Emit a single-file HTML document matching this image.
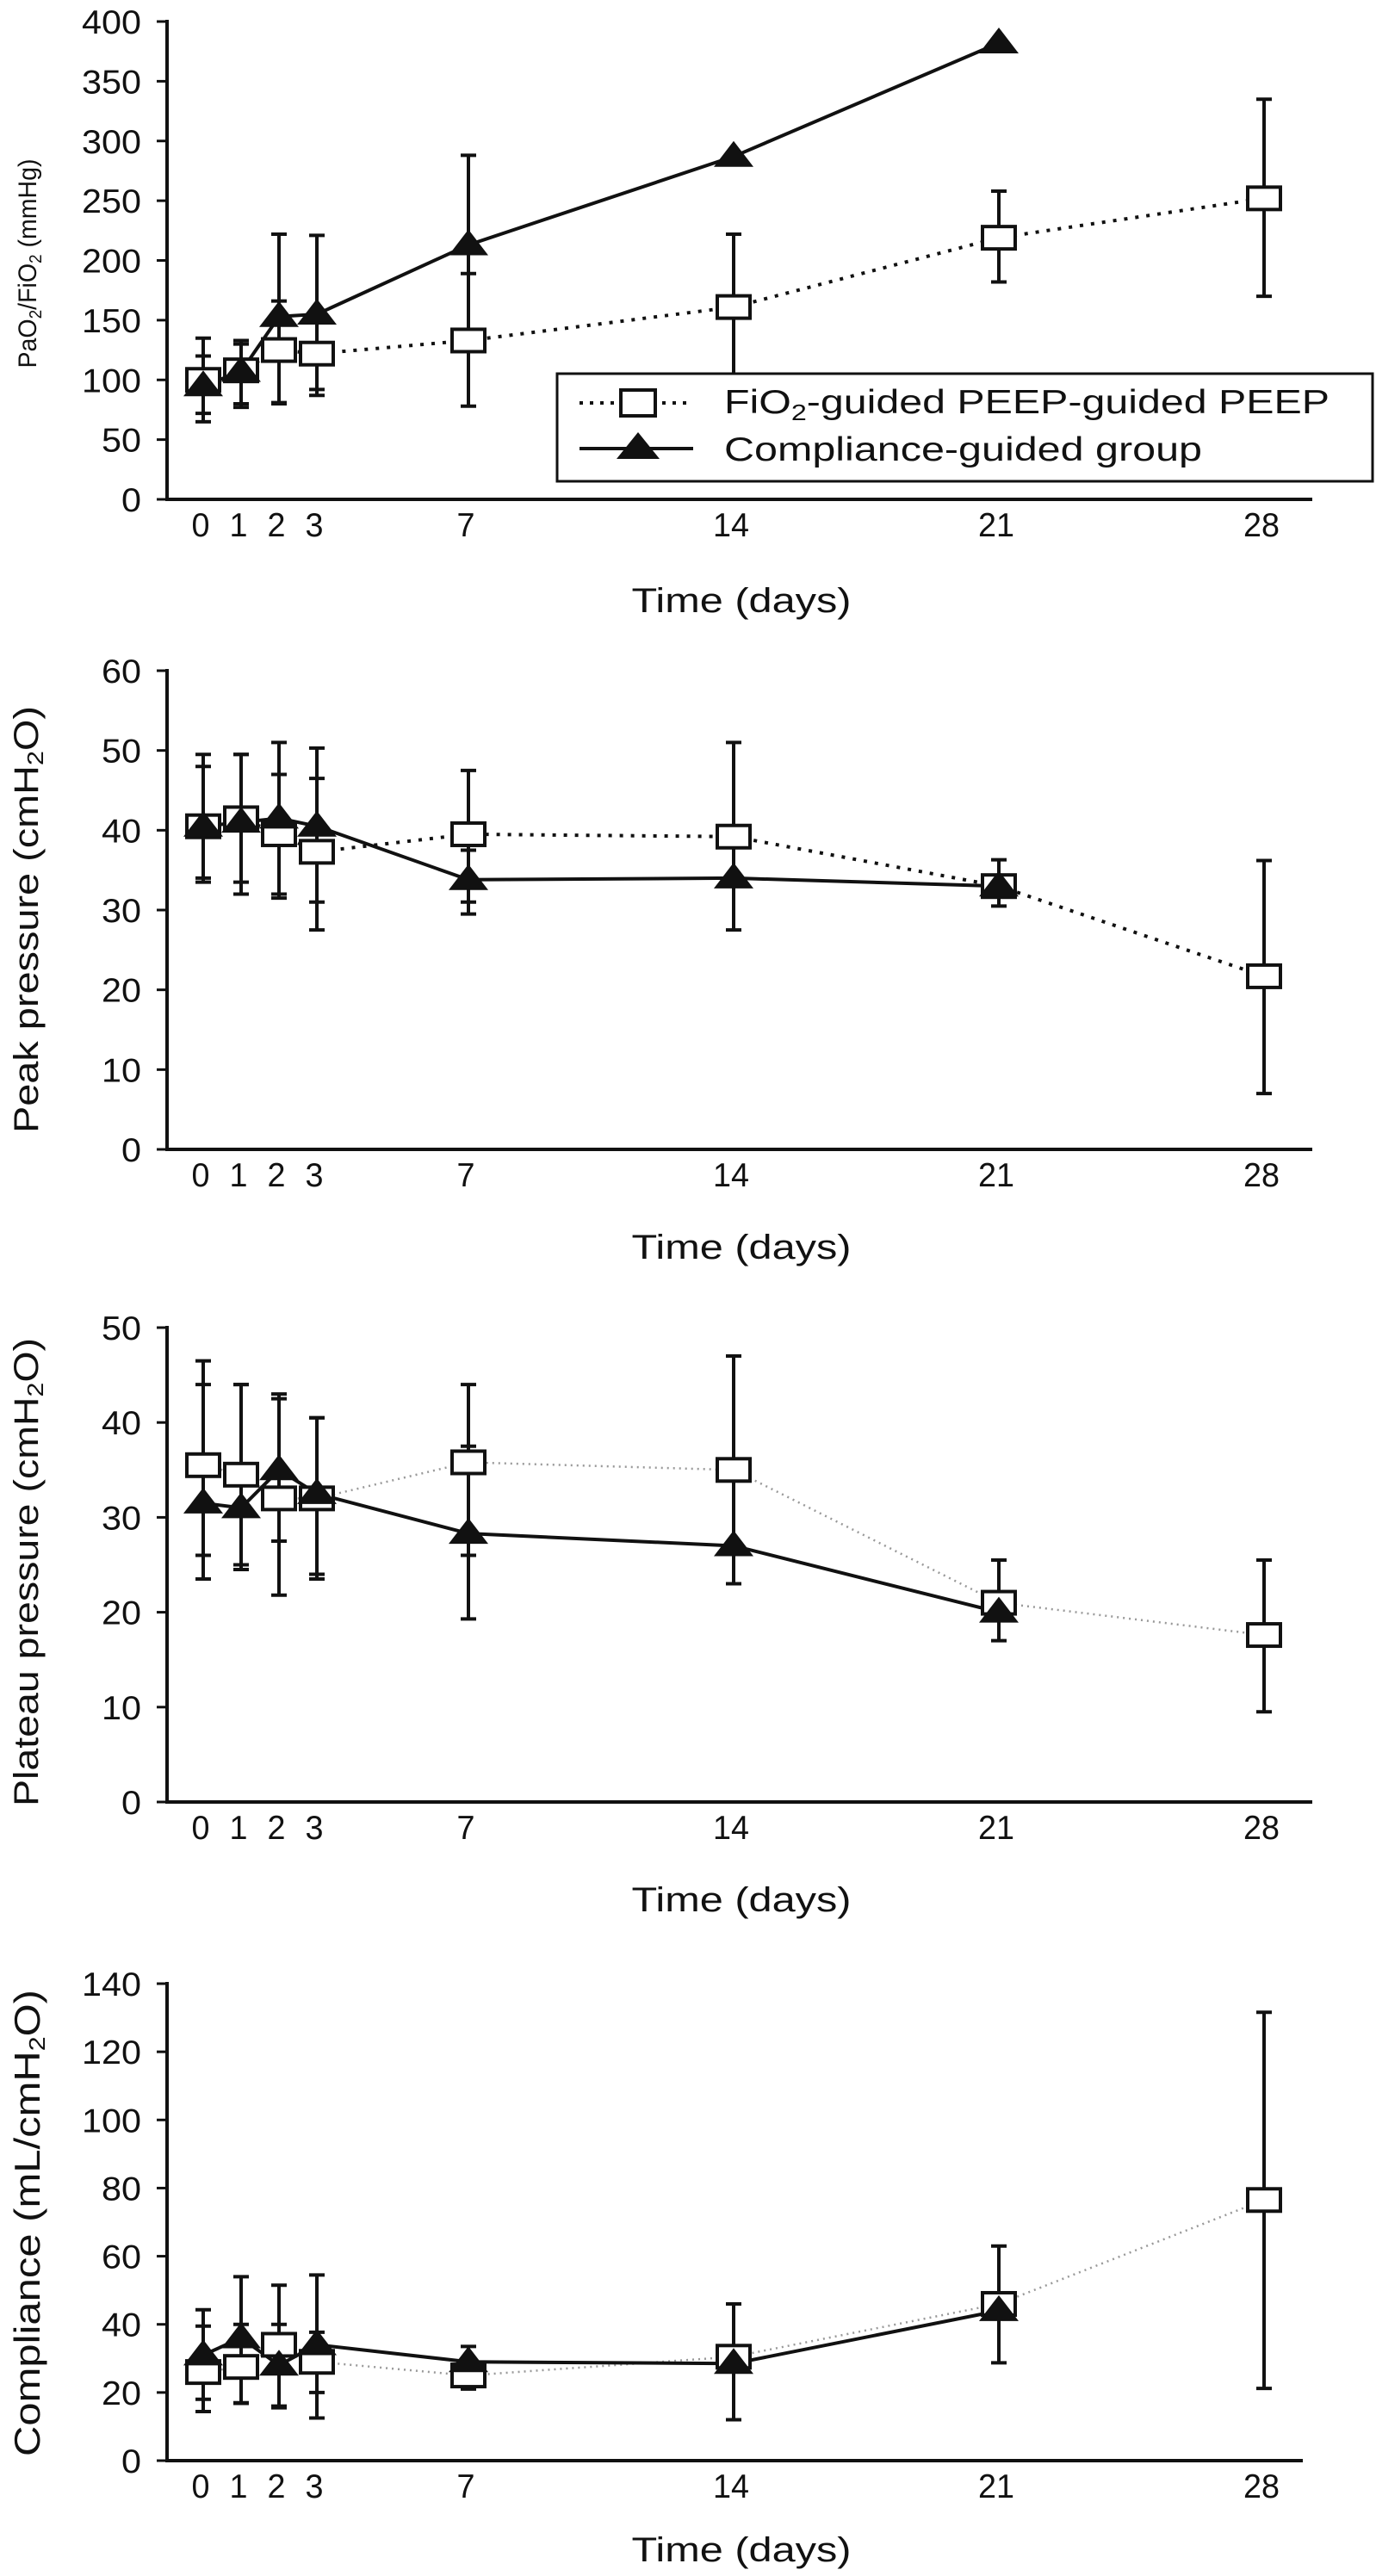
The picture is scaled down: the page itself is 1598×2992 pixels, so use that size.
<!DOCTYPE html>
<html><head><meta charset="utf-8"><style>
html,body{margin:0;padding:0;background:#fff;}
svg{display:block;}
text{font-family:"Liberation Sans",sans-serif;fill:#111;}
</style></head><body>
<svg id="fig" width="1598" height="2992" viewBox="0 0 1598 2992" xmlns="http://www.w3.org/2000/svg"></svg>
<script>
const days = [0,1,2,3,7,14,21,28];
const xTickLabels = ["0","1","2","3","7","14","21","28"];

const p1Ticks = [0,50,100,150,200,250,300,350,400];
const p1SqMean = [100,108,125,122,133,161,219,252];
const p1SqHi = [135,133,166,150,189,222,258,335];
const p1SqLo = [65,77,81,92,78,103,182,170];
const p1TriMean = [95,107,153,155,213,287,382,null];
const p1TriHi = [120,130,222,221,288,null,null,null];
const p1TriLo = [72,80,80,87,133,null,null,null];

const p2Ticks = [0,10,20,30,40,50,60];
const p2SqMean = [40.5,41.5,39.5,37.3,39.5,39.2,33,21.7];
const p2SqHi = [48,49.5,47,46.5,47.5,51,36.3,36.2];
const p2SqLo = [34,33.5,32,27.5,31,27.5,30.5,7];
const p2TriMean = [40.5,41,41.5,40.5,33.8,34,33,null];
const p2TriHi = [49.5,49.5,51,50.3,37.5,null,null,null];
const p2TriLo = [33.5,32,31.5,31,29.5,null,null,null];

const p3Ticks = [0,10,20,30,40,50];
const p3SqMean = [35.5,34.5,32,32,35.8,35,21,17.6];
const p3SqHi = [46.5,44,42.5,40.5,44,47,25.5,25.5];
const p3SqLo = [23.5,25,27.5,23.5,26,23,17,9.5];
const p3TriMean = [31.5,31,35,32.5,28.3,27,20,null];
const p3TriHi = [44,44,43,40.5,37.5,null,null,null];
const p3TriLo = [26,24.5,21.8,24,19.3,null,null,null];

const p4Ticks = [0,20,40,60,80,100,120,140];
const p4SqMean = [26,27.5,34,29,25,30.5,46,76.5];
const p4SqHi = [39.5,40,40,37.7,33.5,46,63,131.6];
const p4SqLo = [18,17,16,20,21,12,28.7,21.2];
const p4TriMean = [31,36,28,34,29,28.5,44,null];
const p4TriHi = [44.3,54,51.5,54.5,null,null,null,null];
const p4TriLo = [14.4,16.8,15.5,12.5,null,null,null,null];

const NS = "http://www.w3.org/2000/svg";
const svg = document.getElementById("fig");
function mk(tag, attrs, parent){
  const e = document.createElementNS(NS, tag);
  for (const k in attrs) e.setAttribute(k, attrs[k]);
  (parent||svg).appendChild(e);
  return e;
}
function xScale(d){ return 236 + 44*d; }

function txt(parent, s, x, y, size, len, anchor, name){
  const t = mk("text", {x:x, y:y, "font-size":size, "text-anchor":anchor||"middle", textLength:len, lengthAdjust:"spacingAndGlyphs"}, parent);
  
  
  t.textContent = s;
  return t;
}

function drawPanel(cfg){
  const g = mk("g", {});
  
  
  const y = v => cfg.y0 + (cfg.yTop - cfg.y0) * v / cfg.max;
  const ax = mk("path", {d:`M194 ${cfg.yTop-2} L194 ${cfg.y0} L${cfg.xEnd} ${cfg.y0}`, fill:"none", stroke:"#111", "stroke-width":4}, g);
  
  
  cfg.ticks.forEach(v=>{
    const tk = mk("line", {x1:182, x2:194, y1:y(v), y2:y(v), stroke:"#111", "stroke-width":3}, g);
    
    
    txt(g, String(v), 164, y(v)+14, 39, 23*String(v).length, "end", "y-tick-label");
  });
  days.forEach((d,i)=>{
    const s = xTickLabels[i];
    txt(g, s, xScale(d)-3, cfg.y0+43, 39, 21*s.length, "middle", "x-tick-label");
  });
  txt(g, "Time (days)", 861, cfg.titleY, 40, 255, "middle", "x-axis-title");
  const yl = mk("text", {x:0, y:0, "font-size":cfg.ylSize, "text-anchor":"middle", textLength:cfg.ylLen, lengthAdjust:"spacingAndGlyphs", transform:`translate(${cfg.ylX},${cfg.ylY}) rotate(-90)`}, g);
  
  
  yl.innerHTML = cfg.ylabel;

  const sqPts = days.map((d,i)=>cfg.sq[i]==null?null:`${xScale(d)},${y(cfg.sq[i])}`).filter(p=>p);
  const sl = mk("polyline", {points:sqPts.join(" "), fill:"none", stroke:cfg.dotColor, "stroke-width":cfg.dotW, "stroke-dasharray":cfg.dash}, g);
  
  
  const trPts = days.map((d,i)=>cfg.tri[i]==null?null:`${xScale(d)},${y(cfg.tri[i])}`).filter(p=>p);
  const tl = mk("polyline", {points:trPts.join(" "), fill:"none", stroke:"#111", "stroke-width":4}, g);
  
  

  function errBar(x, hi, lo, name){
    if (hi==null || lo==null) return;
    const e = mk("path", {d:`M${x} ${y(hi)} L${x} ${y(lo)} M${x-9} ${y(hi)} L${x+9} ${y(hi)} M${x-9} ${y(lo)} L${x+9} ${y(lo)}`, stroke:"#111", "stroke-width":4, fill:"none"}, g);
    
    
  }
  days.forEach((d,i)=>{ errBar(xScale(d), cfg.sqHi[i], cfg.sqLo[i], 'fio2-error-bar'); });
  days.forEach((d,i)=>{ errBar(xScale(d), cfg.triHi[i], cfg.triLo[i], 'compliance-error-bar'); });
  days.forEach((d,i)=>{
    if (cfg.sq[i]==null) return;
    const r = mk("rect", {x:xScale(d)-19, y:y(cfg.sq[i])-13, width:38, height:26, fill:"#fff", stroke:"#111", "stroke-width":4}, g);
    
    
  });
  days.forEach((d,i)=>{
    if (cfg.tri[i]==null) return;
    const cx = xScale(d), cy = y(cfg.tri[i]);
    const p = mk("polygon", {points:`${cx},${cy-18} ${cx+23},${cy+12} ${cx-23},${cy+12}`, fill:"#111"}, g);
    
    
  });
  return g;
}

drawPanel({name:"pao2-fio2-panel", yTop:25, y0:580, max:400, xEnd:1524, ticks:p1Ticks, titleY:711,
  sq:p1SqMean, sqHi:p1SqHi, sqLo:p1SqLo, tri:p1TriMean, triHi:p1TriHi, triLo:p1TriLo,
  dotColor:"#111", dotW:4, dash:"4 9",
  ylabel:'PaO<tspan font-size="20" dy="6">2</tspan><tspan dy="-6">/FiO</tspan><tspan font-size="20" dy="6">2</tspan><tspan dy="-6"> (mmHg)</tspan>',
  ylX:42, ylY:306, ylSize:30, ylLen:243});
drawPanel({name:"peak-pressure-panel", yTop:779, y0:1335, max:60, xEnd:1524, ticks:p2Ticks, titleY:1462,
  sq:p2SqMean, sqHi:p2SqHi, sqLo:p2SqLo, tri:p2TriMean, triHi:p2TriHi, triLo:p2TriLo,
  dotColor:"#111", dotW:4, dash:"4 9",
  ylabel:'Peak pressure (cmH<tspan font-size="26" dy="6">2</tspan><tspan dy="-6">O)</tspan>',
  ylX:44, ylY:1068, ylSize:40, ylLen:496});
drawPanel({name:"plateau-pressure-panel", yTop:1542, y0:2093, max:50, xEnd:1524, ticks:p3Ticks, titleY:2220,
  sq:p3SqMean, sqHi:p3SqHi, sqLo:p3SqLo, tri:p3TriMean, triHi:p3TriHi, triLo:p3TriLo,
  dotColor:"#999", dotW:2.5, dash:"2 5",
  ylabel:'Plateau pressure (cmH<tspan font-size="26" dy="6">2</tspan><tspan dy="-6">O)</tspan>',
  ylX:44, ylY:1826, ylSize:40, ylLen:544});
drawPanel({name:"compliance-panel", yTop:2304, y0:2858, max:140, xEnd:1513, ticks:p4Ticks, titleY:2975,
  sq:p4SqMean, sqHi:p4SqHi, sqLo:p4SqLo, tri:p4TriMean, triHi:p4TriHi, triLo:p4TriLo,
  dotColor:"#999", dotW:2.5, dash:"2 5",
  ylabel:'Compliance (mL/cmH<tspan font-size="26" dy="6">2</tspan><tspan dy="-6">O)</tspan>',
  ylX:46, ylY:2582, ylSize:42, ylLen:542});

const lg = mk("g", {});


const box = mk("rect", {x:647, y:434, width:947, height:125, fill:"#fff", stroke:"#111", "stroke-width":3}, lg);


const l1 = mk("line", {x1:673, x2:805, y1:468, y2:468, stroke:"#111", "stroke-width":4, "stroke-dasharray":"4 8"}, lg);


const r1 = mk("rect", {x:721, y:453, width:40, height:30, fill:"#fff", stroke:"#111", "stroke-width":4}, lg);


const l2 = mk("line", {x1:673, x2:805, y1:521, y2:521, stroke:"#111", "stroke-width":4}, lg);


const t2 = mk("polygon", {points:"741,502 766,533 716,533", fill:"#111"}, lg);


const lt1 = mk("text", {x:841, y:480, "font-size":39, textLength:703, lengthAdjust:"spacingAndGlyphs"}, lg);


lt1.innerHTML = 'FiO<tspan font-size="26" dy="8">2</tspan><tspan dy="-8">-guided PEEP-guided PEEP</tspan>';
const lt2 = mk("text", {x:841, y:535, "font-size":39, textLength:555, lengthAdjust:"spacingAndGlyphs"}, lg);


lt2.textContent = 'Compliance-guided group';
</script>
</body></html>
